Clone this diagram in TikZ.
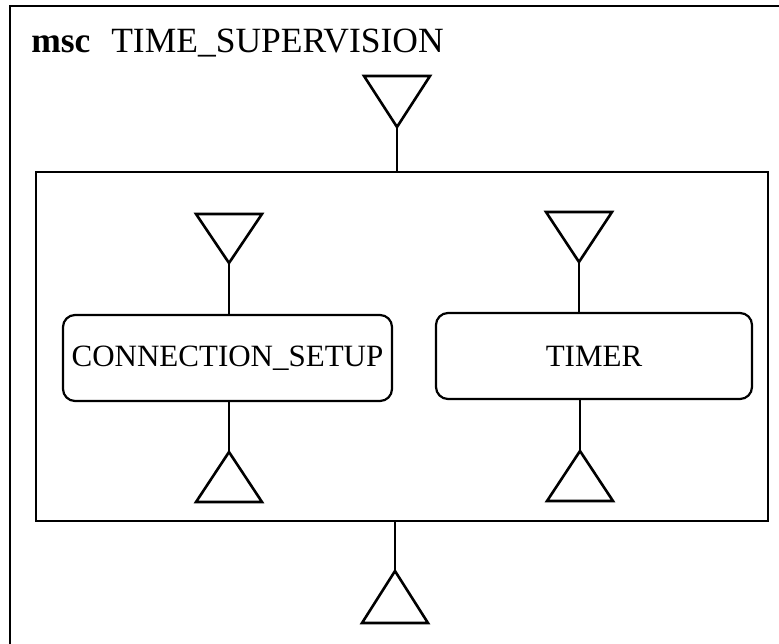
\documentclass[tikz,border=0pt]{standalone}
\usepackage{fontspec}
\setmainfont{Liberation Serif}
\begin{document}
\begin{tikzpicture}[x=1pt,y=-1pt,line width=2.6pt,line join=miter,
  procbox/.style={draw,line width=2.2pt,rounded corners=12pt,minimum height=86pt,inner sep=0pt,
    font=\fontsize{31}{36}\selectfont},
  framebox/.style={draw,inner sep=0pt}]
\clip (0,0) rectangle (779,644);
% outer msc frame (right and bottom edges lie outside the picture)
\draw (10,700) -- (10,6) -- (840,6);
\node[anchor=base west,inner sep=0pt,font=\fontsize{35.5}{40}\selectfont\bfseries] (kw) at (30,53) {msc};
\node[anchor=base west,inner sep=0pt,font=\fontsize{35.5}{40}\selectfont] (title) at (110,53) {TIME\_SUPERVISION};
% inner reference box
\node[framebox,minimum width=732pt,minimum height=349pt] (inner) at (402,346.5) {};
% process boxes
\node[procbox,minimum width=329pt] (cs) at (227.5,358) {CONNECTION\_SETUP};
\node[procbox,minimum width=316pt] (tm) at (594,356) {TIMER};
% gate apex coordinates
\coordinate (gtop) at (397,127);
\coordinate (gbot) at (395,571);
\coordinate (gcsin) at (229,263);
\coordinate (gcsout) at (229,452);
\coordinate (gtmin) at (579,262);
\coordinate (gtmout) at (580,451);
% gate triangles
\draw (gtop) -- ++(-33,-51) -- ++(66,0) -- cycle;
\draw (gcsin) -- ++(-33,-49) -- ++(66,0) -- cycle;
\draw (gtmin) -- ++(-33,-50) -- ++(66,0) -- cycle;
\draw (gcsout) -- ++(-33,50) -- ++(66,0) -- cycle;
\draw (gtmout) -- ++(-33,50) -- ++(66,0) -- cycle;
\draw (gbot) -- ++(-33,52) -- ++(66,0) -- cycle;
% connectors
\draw (gtop) -- (gtop |- inner.north);
\draw (inner.south -| gbot) -- (gbot);
\draw (gcsin) -- (gcsin |- cs.north);
\draw (cs.south -| gcsout) -- (gcsout);
\draw (gtmin) -- (gtmin |- tm.north);
\draw (tm.south -| gtmout) -- (gtmout);
\end{tikzpicture}
\end{document}
